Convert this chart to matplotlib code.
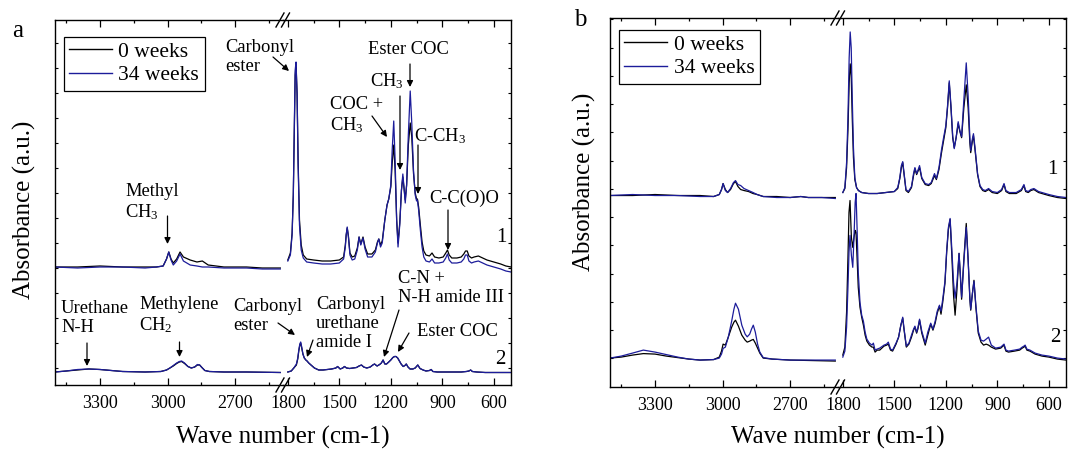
import matplotlib
matplotlib.use("Agg")
import matplotlib.pyplot as plt
from matplotlib.lines import Line2D

plt.rcParams['font.family'] = ['Liberation Serif', 'DejaVu Serif']
plt.rcParams['mathtext.fontset'] = 'custom'
plt.rcParams['mathtext.rm'] = 'Liberation Serif'
plt.rcParams['mathtext.it'] = 'Liberation Serif:italic'
plt.rcParams['mathtext.default'] = 'rm'

# ---------------- data (absorbance in arbitrary units) ----------------
# panel a, spectrum 1
a1_left_wn = [3500, 3400, 3300, 3200, 3100, 3050, 3020, 3005, 2995, 2985, 2975, 2960, 2945, 2930, 2900, 2870,
              2846, 2820, 2750, 2650, 2580, 2500]
a1_left_0wk = [118, 118, 119, 118, 118, 118, 119, 126, 133, 126, 122, 126, 133, 128, 125, 123,
               124, 120, 118, 118, 117, 117]
a1_left_34wk = [118, 117, 118, 118, 117, 118, 119, 126, 133, 125, 120, 124, 131, 124, 120, 119,
                118, 118, 117, 117, 116, 116]

a1_right_wn = [1800, 1785, 1775, 1768, 1762, 1757, 1752, 1746, 1740, 1732,
               1722, 1710, 1690, 1650, 1600, 1550, 1500, 1475, 1465, 1460,
               1454, 1447, 1438, 1425, 1410, 1395, 1385, 1375, 1362, 1350,
               1335, 1310, 1290, 1278, 1270, 1260, 1250, 1235, 1222, 1212,
               1200, 1192, 1183, 1175, 1166, 1158, 1148, 1138, 1130, 1122,
               1116, 1108, 1098, 1087, 1078, 1068, 1058, 1050, 1045, 1038,
               1028, 1018, 1008, 995, 975, 960, 945, 920, 895, 880,
               870, 860, 845, 815, 790, 775, 765, 755, 745, 730,
               715, 690, 665, 640, 600, 560, 530, 500]
a1_right_0wk = [125, 132, 152, 190, 255, 310, 320, 292, 225, 165,
                140, 130, 126, 125, 124, 124, 125, 128, 140, 150,
                157, 149, 132, 128, 129, 137, 148, 141, 148, 138,
                131, 131, 135, 143, 146, 140, 144, 165, 180, 186,
                198, 222, 240, 215, 165, 142, 162, 195, 208, 195,
                185, 200, 240, 262, 248, 212, 192, 186, 186, 178,
                160, 143, 134, 130, 129, 132, 128, 127, 128, 132,
                135, 130, 127, 127, 128, 131, 134, 134, 129, 127,
                128, 129, 127, 125, 123, 121, 119, 118]
a1_right_34wk = [124, 130, 150, 190, 260, 315, 323, 290, 220, 160,
                 135, 127, 123, 122, 121, 121, 122, 126, 138, 150,
                 158, 148, 130, 125, 126, 135, 148, 140, 147, 136,
                 128, 128, 133, 142, 146, 138, 142, 165, 180, 186,
                 200, 235, 264, 225, 165, 138, 160, 195, 211, 195,
                 182, 200, 250, 294, 262, 215, 190, 184, 185, 175,
                 155, 138, 128, 124, 123, 126, 122, 122, 123, 127,
                 131, 125, 122, 122, 123, 126, 130, 130, 124, 122,
                 123, 124, 122, 120, 118, 116, 114, 113]

# panel a, spectrum 2
a2_left_wn = [3500, 3450, 3400, 3350, 3300, 3250, 3200, 3100, 3030, 3005,
              2990, 2975, 2960, 2948, 2938, 2925, 2910, 2895, 2880, 2868,
              2858, 2848, 2835, 2815, 2750, 2650, 2500]
a2_left_0wk = [13, 14, 15, 16, 15.5, 14.5, 13.5, 13, 13.5, 15,
               17, 19, 21.5, 23, 23.5, 21.5, 18.5, 17, 18, 20,
               20, 17.5, 14.5, 13.5, 13, 13, 12.5]
a2_left_34wk = [13, 14, 15.5, 16, 15.5, 14.5, 13.5, 13, 13.5, 15,
                17, 19.5, 22, 23.5, 24, 22, 18.5, 17, 18, 20.5,
                20, 17.5, 14.5, 13.5, 13, 13, 12.5]

a2_right_wn = [1800, 1780, 1765, 1750, 1742, 1736, 1730, 1725, 1719, 1712,
               1704, 1695, 1688, 1678, 1665, 1645, 1620, 1595, 1570, 1545,
               1520, 1510, 1495, 1480, 1470, 1458, 1440, 1420, 1400, 1385,
               1371, 1358, 1340, 1320, 1305, 1295, 1280, 1265, 1255, 1245,
               1235, 1225, 1212, 1200, 1188, 1178, 1170, 1160, 1150, 1140,
               1128, 1118, 1110, 1100, 1088, 1072, 1058, 1043, 1030, 1012,
               995, 975, 965, 955, 930, 900, 850, 790, 760, 745,
               735, 725, 700, 650, 600, 550, 500]
a2_right_0wk = [13, 14, 17, 20, 26, 34, 40, 42, 37, 31,
                27, 25, 24, 22, 20, 17, 15, 15, 15.5, 16,
                17, 18.5, 16, 17, 18.5, 17, 16.5, 17, 17.5, 19,
                20, 18, 17, 18, 20, 21, 19, 20.5, 22, 25,
                21, 21, 23, 25, 27.5, 28.5, 28.5, 27, 24, 21,
                18.5, 19.5, 21, 18, 16, 16, 17, 20, 16.5, 15,
                14, 14.5, 15.5, 13.5, 13, 13, 13, 13, 13.5, 14,
                15, 13.5, 13, 12.5, 12.5, 12.5, 12.5]
a2_right_34wk = [13, 14, 17, 21, 27, 35, 41, 43, 38, 31,
                 27, 25, 24, 22, 20, 17, 15, 15, 15.5, 16,
                 17, 18.5, 16, 17, 18.5, 17, 16.5, 17, 17.5, 19,
                 20, 18, 17, 18, 20, 21, 19, 20.5, 22, 25,
                 21, 21, 23, 25, 27.5, 28.5, 28.5, 27, 24, 21,
                 18.5, 19.5, 21, 18, 16, 16, 17, 20, 16.5, 15,
                 14, 14.5, 15.5, 13.5, 13, 13, 13, 13, 13.5, 14,
                 15, 13.5, 13, 12.5, 12.5, 12.5, 12.5]

# panel b, spectrum 1
b1_left_wn = [3500, 3400, 3300, 3200, 3100, 3040, 3015, 3005, 2998, 2988,
              2978, 2965, 2952, 2943, 2932, 2920, 2905, 2885, 2865, 2847,
              2820, 2760, 2700, 2653, 2620, 2560, 2500]
b1_left_0wk = [192, 192, 193, 192, 192, 191, 193, 198, 204, 198,
               195, 198, 204, 206, 201, 198, 197, 196, 194, 193,
               191, 191, 190, 191, 190, 190, 190]
b1_left_34wk = [192, 193, 192, 192, 191, 191, 193, 198, 204, 197,
                195, 199, 205, 207, 203, 202, 199, 197, 195, 193,
                191, 190, 190, 191, 190, 190, 189]

b1_right_wn = [1800, 1788, 1778, 1770, 1763, 1757, 1751, 1745, 1738, 1730,
               1720, 1709, 1690, 1650, 1600, 1550, 1500, 1480, 1468, 1459,
               1451, 1443, 1432, 1418, 1400, 1388, 1380, 1370, 1363, 1353,
               1340, 1320, 1300, 1285, 1266, 1255, 1240, 1225, 1213, 1200,
               1190, 1180, 1170, 1160, 1151, 1140, 1128, 1118, 1108, 1095,
               1081, 1070, 1060, 1055, 1045, 1039, 1030, 1015, 1001, 985,
               970, 951, 930, 900, 875, 861, 850, 830, 790, 760,
               745, 735, 720, 705, 687, 660, 600, 550, 500]
b1_right_0wk = [195, 199, 220, 258, 305, 324, 312, 270, 230, 208,
                200, 197, 195, 194, 194, 195, 196, 199, 209, 220,
                225, 213, 197, 195, 200, 212, 219, 213, 216, 220,
                209, 203, 202, 204, 212, 208, 218, 235, 247, 260,
                280, 305, 280, 250, 240, 250, 264, 256, 250, 280,
                303, 280, 245, 235, 247, 252, 238, 213, 201, 197,
                196, 198, 195, 194, 197, 203, 196, 194, 194, 197,
                202, 196, 195, 197, 198, 195, 192, 190, 189]
b1_right_34wk = [195, 200, 225, 270, 330, 356, 340, 290, 240, 210,
                 200, 197, 195, 194, 194, 195, 196, 200, 210, 222,
                 226, 214, 198, 196, 201, 214, 220, 214, 217, 222,
                 210, 204, 203, 205, 214, 209, 220, 238, 250, 262,
                 282, 307, 282, 252, 239, 250, 266, 257, 251, 288,
                 325, 292, 250, 237, 249, 254, 240, 214, 202, 198,
                 197, 199, 196, 195, 198, 204, 197, 195, 195, 198,
                 203, 197, 196, 198, 199, 196, 193, 191, 190]

# panel b, spectrum 2
b2_left_wn = [3500, 3450, 3400, 3352, 3300, 3250, 3200, 3150, 3100, 3040,
              3015, 3005, 2998, 2988, 2975, 2960, 2950, 2943, 2930, 2915,
              2900, 2891, 2880, 2872, 2864, 2855, 2845, 2835, 2820, 2780,
              2700, 2600, 2500]
b2_left_0wk = [29, 30, 32, 33.5, 33, 31, 29.5, 28, 27, 27.5,
               30, 36, 43, 42, 50, 60, 65, 67, 61, 52,
               47, 45, 46, 47, 47.7, 44, 39, 34, 29, 28,
               27, 26.5, 26]
b2_left_34wk = [29, 31, 34, 37, 35, 32.5, 30, 28, 27, 27.5,
                29, 33, 38.7, 40, 50, 66, 78, 84, 78, 62,
                53, 50.3, 53, 58, 62, 55, 43, 35, 29.5, 28,
                27, 27, 27]

b2_right_wn = [1800, 1788, 1778, 1770, 1764, 1758, 1750, 1742, 1735, 1728,
               1723, 1717, 1710, 1700, 1690, 1680, 1670, 1660, 1645, 1630,
               1622, 1612, 1600, 1585, 1560, 1545, 1535, 1522, 1510, 1490,
               1475, 1462, 1451, 1443, 1430, 1415, 1400, 1388, 1380, 1370,
               1363, 1353, 1340, 1320, 1305, 1288, 1275, 1262, 1250, 1237,
               1228, 1218, 1205, 1195, 1185, 1175, 1165, 1155, 1146, 1135,
               1123, 1115, 1108, 1095, 1081, 1070, 1060, 1055, 1045, 1036,
               1025, 1011, 995, 980, 965, 951, 935, 910, 880, 861,
               850, 835, 800, 770, 755, 745, 738, 728, 710, 680,
               640, 600, 550, 500]
b2_right_0wk = [32, 40, 75, 130, 175, 187, 150, 140, 150, 157,
                155, 130, 100, 80, 70, 62, 52, 46, 42, 40,
                40, 35, 37, 37, 41, 42, 43, 37, 36, 43,
                50, 62, 69, 57, 40, 43, 50, 57, 60, 54,
                58, 67, 54, 42, 52, 63, 57, 64, 74, 81,
                73, 85, 104, 135, 158, 168, 132, 92, 72, 98,
                134, 110, 88, 128, 164, 128, 88, 77, 94, 107,
                80, 54, 45, 42, 43, 42, 40, 38, 39, 42,
                36, 35, 36, 37, 39, 40, 41, 37, 36, 33,
                31, 30, 28, 27]
b2_right_34wk = [30, 36, 60, 100, 135, 152, 132, 120, 150, 185,
                 194, 160, 115, 85, 72, 66, 55, 48, 44, 42,
                 44, 37, 38, 39, 42, 43, 45, 38, 37, 44,
                 50, 62, 70, 58, 41, 44, 52, 58, 61, 55,
                 59, 68, 56, 44, 55, 64, 58, 66, 76, 82,
                 76, 88, 106, 137, 160, 169, 138, 105, 89, 105,
                 134, 112, 90, 125, 160, 127, 90, 78, 94, 106,
                 82, 56, 47, 46, 48, 50, 42, 39, 40, 43,
                 37, 36, 37, 38, 40, 41, 42, 38, 37, 34,
                 32, 31, 29, 28]

labels = ['0 weeks', '34 weeks']
colors = ['black', '#1c1c9a']

W, H = 1068, 451
fig = plt.figure(figsize=(W / 100, H / 100), dpi=100)


def frac(px, py):
    return px / W, 1 - py / H


def make_panel(x0, x1, top, bottom, ytick_start, ytick_step, ymax):
    """two half-axes sharing one frame, with a break between 3500-2500 and 1800-500"""
    mid = (x0 + x1) / 2
    axes = []
    for left, right, xlim in [(x0, mid, (3500, 2488)), (mid, x1, (1828, 500))]:
        ax = fig.add_axes([left / W, 1 - bottom / H, (right - left) / W, (bottom - top) / H])
        ax.set_xlim(*xlim)
        ax.set_ylim(0, ymax)
        ax.set_facecolor('none')
        yt = []
        v = ytick_start
        while v < ymax:
            yt.append(v)
            v += ytick_step
        ax.set_yticks(yt)
        ax.set_yticklabels([])
        ax.tick_params(axis='both', direction='in', top=True, labelsize=13, pad=7)
        ax.tick_params(axis='x', which='major', length=5, width=0.9)
        ax.tick_params(axis='x', which='minor', length=2.5, width=0.9, top=True, direction='in')
        ax.tick_params(axis='y', length=2.5, width=0.8)
        for s in ax.spines.values():
            s.set_linewidth(1.0)
        axes.append(ax)
    axl, axr = axes
    axl.set_xticks([3300, 3000, 2700])
    axl.set_xticks([3450, 3150, 2850, 2550], minor=True)
    axr.set_xticks([1800, 1500, 1200, 900, 600])
    axr.set_xticks([1650, 1350, 1050, 750], minor=True)
    axl.spines['right'].set_visible(False)
    axr.spines['left'].set_visible(False)
    axl.tick_params(axis='y', left=True, right=False)
    axr.tick_params(axis='y', left=False, right=True)
    # break marks
    for yb in (top, bottom):
        for dx in (-3, 2.5):
            xa, ya = frac(mid + dx - 4, yb + 7)
            xb, yb2 = frac(mid + dx + 4, yb - 7)
            fig.add_artist(Line2D([xa, xb], [ya, yb2], color='k', lw=1.0))
    return axl, axr


def draw(ax, wn, y0, y34):
    ax.plot(wn, y0, color=colors[0], lw=0.9)
    ax.plot(wn, y34, color=colors[1], lw=0.9)


# ---------------- panel a ----------------
aL, aR = make_panel(55, 511, 20, 385, 16.7, 25, 365)
draw(aL, a1_left_wn, a1_left_0wk, a1_left_34wk)
draw(aL, a2_left_wn, a2_left_0wk, a2_left_34wk)
draw(aR, a1_right_wn, a1_right_0wk, a1_right_34wk)
draw(aR, a2_right_wn, a2_right_0wk, a2_right_34wk)

# ---------------- panel b ----------------
bL, bR = make_panel(610, 1066, 18, 387, 28.7, 28.33, 370)
draw(bL, b1_left_wn, b1_left_0wk, b1_left_34wk)
draw(bL, b2_left_wn, b2_left_0wk, b2_left_34wk)
draw(bR, b1_right_wn, b1_right_0wk, b1_right_34wk)
draw(bR, b2_right_wn, b2_right_0wk, b2_right_34wk)

# legends
for ax, (lx, ly) in [(aL, (63.5, 36.5)), (bL, (619, 29.5))]:
    handles = [Line2D([], [], color=c, lw=1.0) for c in colors]
    leg = ax.legend(handles, labels, loc='upper left', bbox_to_anchor=frac(lx, ly),
                    bbox_transform=fig.transFigure, fontsize=15.5, fancybox=False,
                    edgecolor='black', framealpha=1, borderpad=0.25, handlelength=2.0,
                    handletextpad=0.3, labelspacing=0.15, borderaxespad=0)
    leg.get_frame().set_linewidth(0.9)

# overlay in pixel coordinates for labels and arrows
ov = fig.add_axes([0, 0, 1, 1])
ov.set_xlim(0, W)
ov.set_ylim(H, 0)
ov.axis('off')
ov.patch.set_visible(False)

ov.text(18, 31, 'a', fontsize=18, ha='center', va='center')
ov.text(580, 20, 'b', fontsize=18, ha='center', va='center')
ov.text(501, 238, '1', fontsize=15, ha='center', va='center')
ov.text(500, 359, '2', fontsize=15, ha='center', va='center')
ov.text(1052, 170, '1', fontsize=15, ha='center', va='center')
ov.text(1055, 337, '2', fontsize=15, ha='center', va='center')

for cx in (283, 838):
    ov.text(cx, 437, 'Wave number (cm-1)', fontsize=18, ha='center', va='center')
ov.text(24, 210, 'Absorbance (a.u.)', fontsize=18, ha='center', va='center', rotation=90)
ov.text(584, 182, 'Absorbance (a.u.)', fontsize=18, ha='center', va='center', rotation=90)

# annotations of panel a: (text, x, top, tail, tip)
notes = [
    ('Carbonyl\nester', 225, 39, (273, 57), (289, 71)),
    ('Ester COC', 368, 41, (410, 64), (410, 87)),
    ('CH$_3$', 370, 71, (400, 96), (400, 170)),
    ('COC +\nCH$_3$', 330, 96, (372, 116), (387, 137)),
    ('C-CH$_3$', 414, 126, (418, 145), (418, 194)),
    ('C-C(O)O', 429, 190, (448, 210), (448, 250)),
    ('Methyl\nCH$_3$', 125, 183, (167.5, 216), (167.5, 244)),
    ('Urethane\nN-H', 61, 300, (87, 343), (87, 366)),
    ('Methylene\nCH$_2$', 139, 296, (179.5, 342), (179.5, 357)),
    ('Carbonyl\nester', 233, 298, (278, 323), (295, 335)),
    ('Carbonyl\nurethane\namide I', 316, 296, (313, 340), (307, 357)),
    ('C-N +\nN-H amide III', 398, 270, (399, 310), (384, 357)),
    ('Ester COC', 417, 323, (409, 333), (398, 352)),
]
for txt, tx, ty, tail, tip in notes:
    ov.text(tx, ty, txt, fontsize=13.3, ha='left', va='top', linespacing=1.15)
    ov.annotate('', xy=tip, xytext=tail,
                arrowprops=dict(arrowstyle='-|>', color='black', lw=0.9,
                                mutation_scale=9, shrinkA=0, shrinkB=0))

fig.savefig('out.png', dpi=100)
